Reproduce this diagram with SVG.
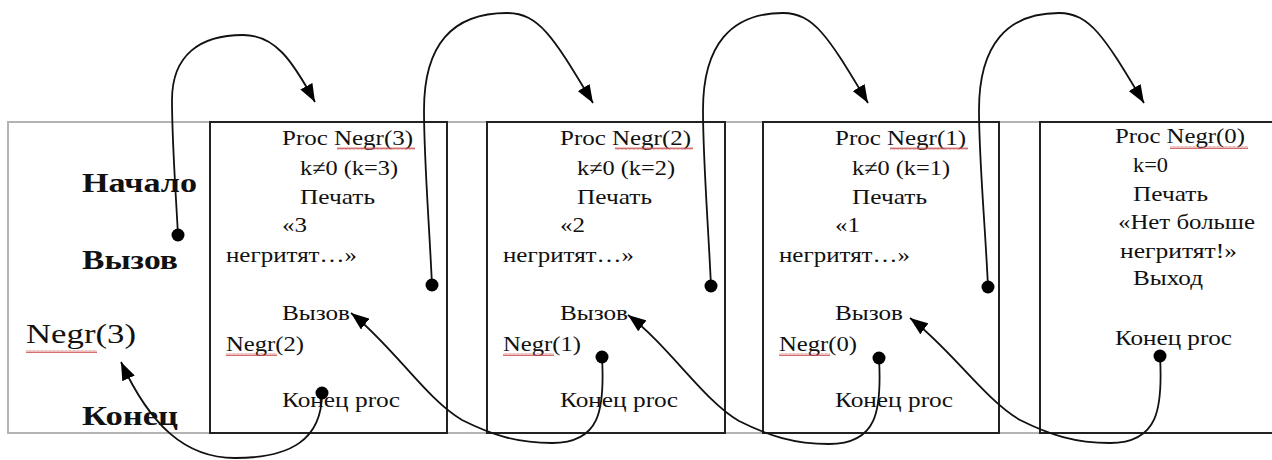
<svg xmlns="http://www.w3.org/2000/svg" width="1272" height="460" viewBox="0 0 1272 460">
<style>
.bg{fill:#fff}
.frame{fill:none;stroke:#b4b4b4;stroke-width:2}
.box{fill:none;stroke:#222;stroke-width:2}
.t{font-family:"Liberation Serif","Times New Roman",serif;font-size:21px;fill:#111}
.lb{font-family:"Liberation Serif","Times New Roman",serif;font-size:27px;font-weight:bold;fill:#111}
.ln{font-family:"Liberation Serif","Times New Roman",serif;font-size:27px;fill:#111}
.wavy{fill:url(#wv)}
.arrow{fill:none;stroke:#111;stroke-width:1.8;marker-end:url(#arr)}
.dot{fill:#000}
</style>
<defs>
<pattern id="wv" width="4" height="3" patternUnits="userSpaceOnUse">
<path d="M0,2.5 L1,0.5 L2,2.5 L3,0.5 L4,2.5" fill="none" stroke="#c84a4a" stroke-width="0.8"/>
</pattern>
<marker id="arr" markerWidth="18" markerHeight="14" refX="17" refY="6.5" orient="auto" markerUnits="userSpaceOnUse" viewBox="0 0 17 13">
<path d="M0,0 L17,6.5 L0,13 z" fill="#000"/>
</marker>
</defs>
<rect class="bg" x="0" y="0" width="1272" height="460"/>
<rect class="frame" x="8" y="122" width="1300" height="311"/>

<g id="main">
<text class="lb" x="82" y="192" textLength="115" lengthAdjust="spacingAndGlyphs">Начало</text>
<text class="lb" x="82" y="269" textLength="96" lengthAdjust="spacingAndGlyphs">Вызов</text>
<text class="ln" x="26" y="343" textLength="110" lengthAdjust="spacingAndGlyphs">Negr(3)</text>
<rect class="wavy" x="26" y="350" width="71" height="3"/>
<text class="lb" x="82" y="425" textLength="96" lengthAdjust="spacingAndGlyphs">Конец</text>
</g>

<g id="box1">
<rect class="box" x="210" y="122" width="237" height="311"/>
<text class="t" x="282" y="145" textLength="131" lengthAdjust="spacingAndGlyphs">Proc Negr(3)</text>
<rect class="wavy" x="337" y="147" width="78" height="3"/>
<text class="t" x="300" y="175" textLength="98" lengthAdjust="spacingAndGlyphs">k≠0 (k=3)</text>
<text class="t" x="300" y="204" textLength="75" lengthAdjust="spacingAndGlyphs">Печать</text>
<text class="t" x="282" y="232" textLength="25" lengthAdjust="spacingAndGlyphs">«3</text>
<text class="t" x="226" y="262" textLength="131" lengthAdjust="spacingAndGlyphs">негритят…»</text>
<text class="t" x="282" y="320" textLength="68" lengthAdjust="spacingAndGlyphs">Вызов</text>
<text class="t" x="226" y="351" textLength="78" lengthAdjust="spacingAndGlyphs">Negr(2)</text>
<rect class="wavy" x="226" y="353" width="51" height="3"/>
<text class="t" x="282" y="407" textLength="118" lengthAdjust="spacingAndGlyphs">Конец proc</text>
</g>

<g id="box2">
<rect class="box" x="487" y="122" width="238" height="311"/>
<text class="t" x="560" y="145" textLength="131" lengthAdjust="spacingAndGlyphs">Proc Negr(2)</text>
<rect class="wavy" x="615" y="147" width="78" height="3"/>
<text class="t" x="577" y="175" textLength="98" lengthAdjust="spacingAndGlyphs">k≠0 (k=2)</text>
<text class="t" x="577" y="204" textLength="75" lengthAdjust="spacingAndGlyphs">Печать</text>
<text class="t" x="560" y="232" textLength="25" lengthAdjust="spacingAndGlyphs">«2</text>
<text class="t" x="503" y="262" textLength="131" lengthAdjust="spacingAndGlyphs">негритят…»</text>
<text class="t" x="560" y="320" textLength="68" lengthAdjust="spacingAndGlyphs">Вызов</text>
<text class="t" x="503" y="351" textLength="78" lengthAdjust="spacingAndGlyphs">Negr(1)</text>
<rect class="wavy" x="503" y="353" width="51" height="3"/>
<text class="t" x="560" y="407" textLength="118" lengthAdjust="spacingAndGlyphs">Конец proc</text>
</g>

<g id="box3">
<rect class="box" x="763" y="122" width="236" height="311"/>
<text class="t" x="835" y="145" textLength="131" lengthAdjust="spacingAndGlyphs">Proc Negr(1)</text>
<rect class="wavy" x="890" y="147" width="78" height="3"/>
<text class="t" x="852" y="175" textLength="98" lengthAdjust="spacingAndGlyphs">k≠0 (k=1)</text>
<text class="t" x="852" y="204" textLength="75" lengthAdjust="spacingAndGlyphs">Печать</text>
<text class="t" x="835" y="232" textLength="25" lengthAdjust="spacingAndGlyphs">«1</text>
<text class="t" x="779" y="262" textLength="131" lengthAdjust="spacingAndGlyphs">негритят…»</text>
<text class="t" x="835" y="320" textLength="68" lengthAdjust="spacingAndGlyphs">Вызов</text>
<text class="t" x="779" y="351" textLength="78" lengthAdjust="spacingAndGlyphs">Negr(0)</text>
<rect class="wavy" x="779" y="353" width="51" height="3"/>
<text class="t" x="835" y="407" textLength="118" lengthAdjust="spacingAndGlyphs">Конец proc</text>
</g>

<g id="box4">
<rect class="box" x="1040" y="122" width="260" height="311"/>
<text class="t" x="1115" y="143" textLength="130" lengthAdjust="spacingAndGlyphs">Proc Negr(0)</text>
<rect class="wavy" x="1170" y="146" width="78" height="3"/>
<text class="t" x="1133" y="172" textLength="35" lengthAdjust="spacingAndGlyphs">k=0</text>
<text class="t" x="1133" y="201" textLength="75" lengthAdjust="spacingAndGlyphs">Печать</text>
<text class="t" x="1118" y="229" textLength="137" lengthAdjust="spacingAndGlyphs">«Нет больше</text>
<text class="t" x="1120" y="258" textLength="117" lengthAdjust="spacingAndGlyphs">негритят!»</text>
<text class="t" x="1133" y="285" textLength="70" lengthAdjust="spacingAndGlyphs">Выход</text>
<text class="t" x="1115" y="345" textLength="117" lengthAdjust="spacingAndGlyphs">Конец proc</text>
</g>

<g id="connectors">
<path class="arrow" d="M178,235 C175,180 172,140 172,100 C172,55 200,35 243,35 C275,35 292,60 315,102"/>
<path class="arrow" d="M432,285 C429,220 424,160 424,110 C424,45 452,13 507,13 C540,13 555,40 593,103"/>
<path class="arrow" d="M711,286 C708,221 703,160 703,110 C703,45 731,13 783,13 C815,13 830,40 868,103"/>
<path class="arrow" d="M988,287 C985,222 979,160 979,110 C979,45 1007,13 1059,13 C1091,13 1106,40 1144,103"/>
<path class="arrow" d="M322,393 C322,440 290,458 235,458 C185,458 150,425 121,362"/>
<path class="arrow" d="M602,357 C605,410 600,443 552,443 C517,443 492,435 462,420 C427,400 392,345 351,313"/>
<path class="arrow" d="M879,358 C882,411 877,444 829,444 C794,444 769,436 739,421 C704,401 669,346 628,315"/>
<path class="arrow" d="M1160,356 C1163,409 1158,443 1110,443 C1075,443 1050,435 1020,420 C985,400 950,348 910,318"/>
<circle class="dot" cx="178" cy="235" r="6.5"/>
<circle class="dot" cx="432" cy="285" r="6.5"/>
<circle class="dot" cx="711" cy="286" r="6.5"/>
<circle class="dot" cx="988" cy="287" r="6.5"/>
<circle class="dot" cx="322" cy="393" r="6.5"/>
<circle class="dot" cx="602" cy="357" r="6.5"/>
<circle class="dot" cx="879" cy="358" r="6.5"/>
<circle class="dot" cx="1160" cy="356" r="6.5"/>
</g>
</svg>
